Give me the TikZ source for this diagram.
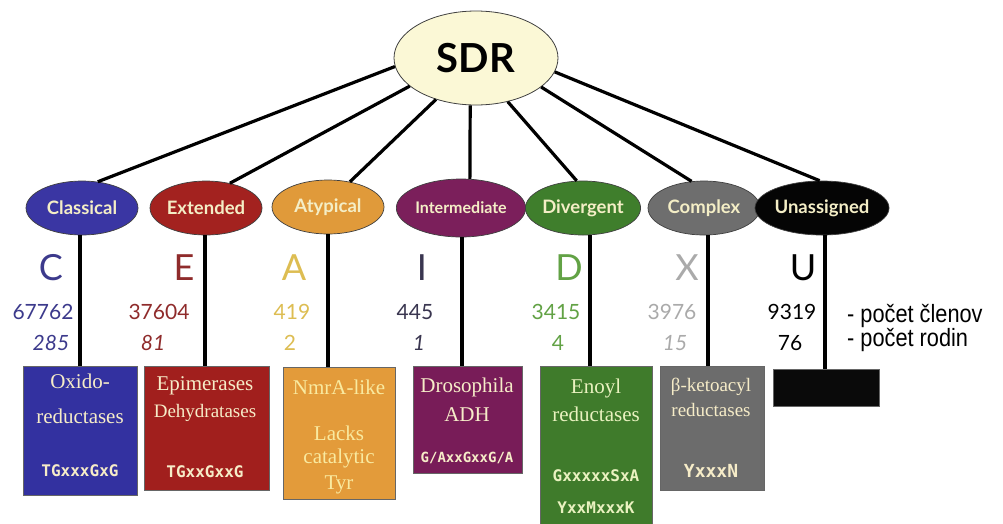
\documentclass[tikz,border=0pt]{standalone}
\usepackage{fontspec}
\setmainfont{Liberation Serif}
\newfontfamily\gill{Lato}
\newfontfamily\monof{DejaVu Sans Mono}
\newfontfamily\narrowf[FakeStretch=0.87]{Liberation Sans}
\usetikzlibrary{shapes.geometric}
\definecolor{sdrfill}{HTML}{FBF8D6}
\definecolor{cream}{HTML}{F4EEC6}
\definecolor{eblue}{HTML}{3A36A3}
\definecolor{ered}{HTML}{A3221F}
\definecolor{eorange}{HTML}{E09A3A}
\definecolor{epurple}{HTML}{7B1F5B}
\definecolor{egreen}{HTML}{3F7E2C}
\definecolor{egray}{HTML}{6E6E6E}
\definecolor{eblack}{HTML}{050505}
\definecolor{tblue}{HTML}{3C3A8C}
\definecolor{tred}{HTML}{8F2B2B}
\definecolor{tyellow}{HTML}{DDBD52}
\definecolor{tdark}{HTML}{3A3650}
\definecolor{tgreen}{HTML}{62A245}
\definecolor{tgray}{HTML}{AAAAAA}
\definecolor{bblue}{HTML}{3331A0}
\definecolor{bred}{HTML}{A11F1D}
\definecolor{borange}{HTML}{E39B3A}
\definecolor{bpurple}{HTML}{781C58}
\definecolor{bgreen}{HTML}{3F7B2B}
\definecolor{bgray}{HTML}{6C6C6C}
\definecolor{bblack}{HTML}{0A0A0A}
\definecolor{ttlcream}{HTML}{F6ECC8}
\definecolor{ttlyellow}{HTML}{F9EAA0}
\definecolor{ttlgreen}{HTML}{EAF2C0}
\tikzset{
  grp/.style={ellipse, draw=black!75, line width=0.7pt, minimum width=112pt,
    minimum height=54pt, inner sep=0pt, text=cream,
    font=\gill\bfseries\fontsize{18.5}{18.5}\selectfont},
  link/.style={line width=3.2pt, black},
  letter/.style={font=\gill\fontsize{36}{36}\selectfont, inner sep=0pt, anchor=base},
  num/.style={font=\gill\fontsize{21}{21}\selectfont, inner sep=0pt, anchor=base},
  inum/.style={font=\gill\itshape\fontsize{21}{21}\selectfont, inner sep=0pt, anchor=base},
  famrect/.style={draw=black!60, line width=0.6pt, inner sep=0pt},
  ttl/.style={font=\fontsize{21}{21}\selectfont, inner sep=0pt, anchor=base},
  sttl/.style={font=\fontsize{19}{19}\selectfont, inner sep=0pt, anchor=base},
  motif/.style={font=\monof\bfseries\fontsize{16}{16}\selectfont, inner sep=0pt, anchor=base},
  legend/.style={font=\narrowf\fontsize{25}{25}\selectfont, inner sep=0pt, anchor=base west},
}
\begin{document}
\begin{tikzpicture}[x=1pt,y=-1pt]
\useasboundingbox[fill=white] (0,0) rectangle (1003,523);

% root
\node[ellipse, draw=black!75, line width=0.8pt, fill=sdrfill, minimum width=164pt,
  minimum height=94pt, inner sep=0pt, font=\gill\bfseries\fontsize{40}{40}\selectfont] (sdr) at (476,58) {SDR};

% group ellipses
\node[grp, fill=eblue] (e1) at (82,208) {Classical};
\node[grp, fill=ered] (e2) at (206,208) {Extended};
\node[grp, fill=eorange] (e3) at (328,207) {Atypical};
\node[grp, fill=epurple, minimum height=58pt, font=\gill\bfseries\fontsize{16}{16}\selectfont] (e4) at (461,208) {Intermediate};
\node[grp, fill=egreen] (e5) at (583,208) {Divergent};
\node[grp, fill=egray] (e6) at (704,208) {Complex};
\node[grp, fill=eblack, minimum width=112pt] (e7) at (822,208) {Unassigned};

% links from root
\draw[link] (sdr.186) -- (e1.59);
\draw[link] (sdr.203) -- (e2.46);
\draw[link] (sdr.226) -- (e3.49);
\draw[link] (sdr.263) -- (e4.73);
\draw[link] (sdr.306) -- (e5.103);
\draw[link] (sdr.336) -- (e6.115);
\draw[link] (sdr.350) -- (e7.95);

% boxes
\node[famrect, fill=bblue, minimum width=114pt, minimum height=129pt] (b1) at (80,430.5) {};
\node[famrect, fill=bred, minimum width=125pt, minimum height=124pt] (b2) at (206.5,428) {};
\node[famrect, fill=borange, minimum width=112pt, minimum height=132pt] (b3) at (339,433) {};
\node[famrect, fill=bpurple, minimum width=109pt, minimum height=107pt] (b4) at (467.5,419.5) {};
\node[famrect, fill=bgreen, minimum width=112pt, minimum height=160pt] (b5) at (596,446) {};
\node[famrect, fill=bgray, minimum width=104pt, minimum height=124pt] (b6) at (712,428) {};
\node[famrect, fill=bblack, minimum width=106pt, minimum height=37pt] (b7) at (826,387.5) {};

% vertical links
\coordinate (v1) at (80,0);
\coordinate (v2) at (205,0);
\coordinate (v3) at (328,0);
\coordinate (v4) at (462,0);
\coordinate (v5) at (590,0);
\coordinate (v6) at (708,0);
\coordinate (v7) at (825,0);
\draw[link] (e1.south -| v1) -- (b1.north -| v1);
\draw[link] (e2.south -| v2) -- (b2.north -| v2);
\draw[link] (e3.south -| v3) -- (b3.north -| v3);
\draw[link] (e4.south -| v4) -- (b4.north -| v4);
\draw[link] (e5.south -| v5) -- (b5.north -| v5);
\draw[link] (e6.south -| v6) -- (b6.north -| v6);
\draw[link] (e7.south -| v7) -- (b7.north -| v7);

% letters
\node[letter, text=tblue] (lc) at (51,280) {C};
\node[letter, text=tred] (le) at (184,280) {E};
\node[letter, text=tyellow] (la) at (294,280) {A};
\node[letter, text=tdark] (li) at (422,280) {I};
\node[letter, text=tgreen] (ld) at (569,280) {D};
\node[letter, text=tgray] (lx) at (687,280) {X};
\node[letter, text=black] (lu) at (803,280) {U};

% numbers
\node[num, text=tblue] (n1a) at (43,319) {67762};
\node[inum, text=tblue] (n1b) at (51,350) {285};
\node[num, text=tred] (n2a) at (159,319) {37604};
\node[inum, text=tred] (n2b) at (153,350) {81};
\node[num, text=tyellow] (n3a) at (292,319) {419};
\node[num, text=tyellow] (n3b) at (290,350) {2};
\node[num, text=tdark] (n4a) at (415,319) {445};
\node[inum, text=tdark] (n4b) at (419,350) {1};
\node[num, text=tgreen] (n5a) at (556,319) {3415};
\node[num, text=tgreen] (n5b) at (558,350) {4};
\node[num, text=tgray] (n6a) at (672,319) {3976};
\node[inum, text=tgray] (n6b) at (675,350) {15};
\node[num, text=black] (n7a) at (792,319) {9319};
\node[num, text=black] (n7b) at (790,350) {76};

% legend
\node[legend] (lg1) at (847,322) {- počet členov};
\node[legend] (lg2) at (847,346) {- počet rodin};

% box texts
\node[ttl, text=ttlcream] (t1a) at (80,388) {Oxido-};
\node[ttl, text=ttlcream] (t1b) at (80,423) {reductases};
\node[motif, text=ttlcream] (m1) at (80,476) {TGxxxGxG};

\node[ttl, text=ttlcream] (t2a) at (205,390) {Epimerases};
\node[sttl, text=ttlcream] (t2b) at (205,417) {Dehydratases};
\node[motif, text=ttlcream] (m2) at (205,477) {TGxxGxxG};

\node[ttl, text=ttlyellow] (t3a) at (339,394) {NmrA-like};
\node[ttl, text=ttlyellow] (t3b) at (339,440) {Lacks};
\node[ttl, text=ttlyellow] (t3c) at (339,463) {catalytic};
\node[ttl, text=ttlyellow] (t3d) at (339,489) {Tyr};

\node[ttl, text=ttlcream] (t4a) at (467,392) {Drosophila};
\node[ttl, text=ttlcream] (t4b) at (467,421) {ADH};
\node[motif, text=ttlcream, font=\monof\bfseries\fontsize{14}{14}\selectfont] (m4) at (467,462) {G/AxxGxxG/A};

\node[ttl, text=ttlgreen] (t5a) at (596,393) {Enoyl};
\node[ttl, text=ttlgreen] (t5b) at (596,421) {reductases};
\node[motif, text=ttlgreen] (m5a) at (596,481) {GxxxxxSxA};
\node[motif, text=ttlgreen] (m5b) at (596,513) {YxxMxxxK};

\node[sttl, text=ttlcream] (t6a) at (711,391) {β-ketoacyl};
\node[sttl, text=ttlcream] (t6b) at (711,416) {reductases};
\node[motif, text=ttlcream, font=\monof\bfseries\fontsize{18}{18}\selectfont] (m6) at (711,477) {YxxxN};
\end{tikzpicture}
\end{document}
